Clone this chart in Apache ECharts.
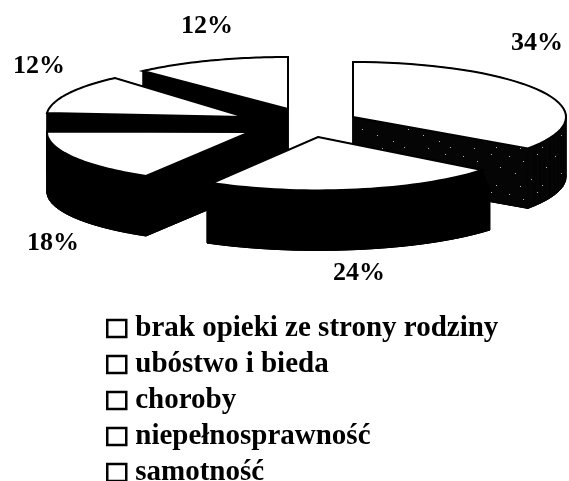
<!DOCTYPE html>
<html>
<head>
<meta charset="utf-8">
<style>html,body{margin:0;padding:0;background:#fff}#c{width:569px;height:481px}</style>
<script src="https://cdn.jsdelivr.net/npm/echarts@6/dist/echarts.min.js"></script>
</head>
<body>
<div id="c"></div>
<script>
const categories = ['brak opieki ze strony rodziny','ubóstwo i bieda','choroby','niepełnosprawność','samotność'];
const values = [34, 24, 18, 12, 12];
const tickLabels = ['34%','24%','18%','12%','12%'];
const drawOrder = [4, 3, 2, 0, 1];

const FONT = '"Liberation Serif","Times New Roman",serif';
// drawn shape of each wedge in the tilted, exploded view: apex, radii, angle skew (deg), wall depth and flare
const SHAPE = [
  {ax:353, ay:117, rx:213,   ry:55,   s0:0,   s1:2.4,  depth:60, flare:0},
  {ax:318, ay:137, rx:208.6, ry:53.4, s0:5.8, s1:1.7,  depth:60, flare:10},
  {ax:250, ay:132, rx:203,   ry:51.2, s0:2,   s1:-3,   depth:60, flare:0},
  {ax:245, ay:117, rx:198.6, ry:51.6, s0:0.8, s1:2.3,  depth:60, flare:0},
  {ax:288, ay:109, rx:212.6, ry:52,   s0:0.2, s1:0,    depth:68, flare:0}
];
const LABEL_POS = [[537,43],[359,273],[53,243],[39,66],[207,26]];

function tile(){
  const c = document.createElement('canvas'); c.width = 46; c.height = 38;
  const g = c.getContext('2d'); g.fillStyle = '#050505'; g.fillRect(0,0,46,38);
  g.fillStyle = '#bbb';
  [[3,4],[17,9],[31,2],[40,15],[9,21],[25,27],[36,33],[14,34]].forEach(p => g.fillRect(p[0],p[1],1,1));
  return c;
}
const stipple = {image: tile(), repeat: 'repeat'};

const total = values.reduce((a,b)=>a+b,0);
function renderSlice(i){
  const S = SHAPE[i], R = Math.PI/180;
  let before = 0; for (let k=0;k<i;k++) before += values[k];
  const a0 = before/total*2*Math.PI + S.s0*R, a1 = (before+values[i])/total*2*Math.PI + S.s1*R;
  const pt = (a,r,d) => [S.ax + r*Math.sin(a), S.ay - S.ry*Math.cos(a) + d];
  const n = 40;
  const arc = (r,d) => { const o=[]; for(let s=0;s<=n;s++) o.push(pt(a0+(a1-a0)*s/n,r,d)); return o; };
  const topArc = arc(S.rx,0), midArc = arc(S.rx+S.flare,20), botArc = arc(S.rx+S.flare,S.depth);
  const st = {fill: i===0 ? stipple : '#000', stroke: i===0 ? '#050505' : '#000', lineWidth: 1};
  const P = (points,style) => ({type:'polygon',shape:{points},style,silent:true});
  const apexB = [S.ax, S.ay+S.depth];
  const children = [
    P([apexB].concat(botArc),st),
    P([[S.ax,S.ay],topArc[0],midArc[0],botArc[0],apexB],st),
    P([[S.ax,S.ay],topArc[n],midArc[n],botArc[n],apexB],st)
  ];
  for (let s=0;s<n;s++) {
    children.push(P([topArc[s],topArc[s+1],midArc[s+1],botArc[s+1],botArc[s],midArc[s]],st));
  }
  children.push(P([[S.ax,S.ay]].concat(topArc),{fill:'#fff',stroke:'#000',lineWidth:2,lineJoin:'miter'}));
  return {type:'group',children};
}

const series = drawOrder.map(i => ({
  type:'custom', name:categories[i], coordinateSystem:'none', silent:true, animation:false,
  data:[values[i]], renderItem:() => renderSlice(i),
  itemStyle:{color:'#fff',borderColor:'#000',borderWidth:2}
}));

const chart = echarts.init(document.getElementById('c'),null,{renderer:'canvas'});
chart.setOption({
  animation:false, backgroundColor:'#fff',
  legend:{
    data:categories, orient:'vertical', left:106, top:314, height:400, itemWidth:19, itemHeight:17, itemGap:7,
    icon:'rect', selectedMode:false, padding:0,
    itemStyle:{color:'#fff',borderColor:'#000',borderWidth:2.5},
    textStyle:{fontFamily:FONT,fontWeight:'bold',fontSize:29,color:'#000',padding:[0,0,0,4]}
  },
  graphic:tickLabels.map((t,i)=>({type:'text',x:LABEL_POS[i][0],y:LABEL_POS[i][1],silent:true,
    style:{text:t,fontFamily:FONT,fontWeight:'bold',fontSize:26,fill:'#000',align:'center',verticalAlign:'middle'}})),
  series
});
</script>
</body>
</html>
